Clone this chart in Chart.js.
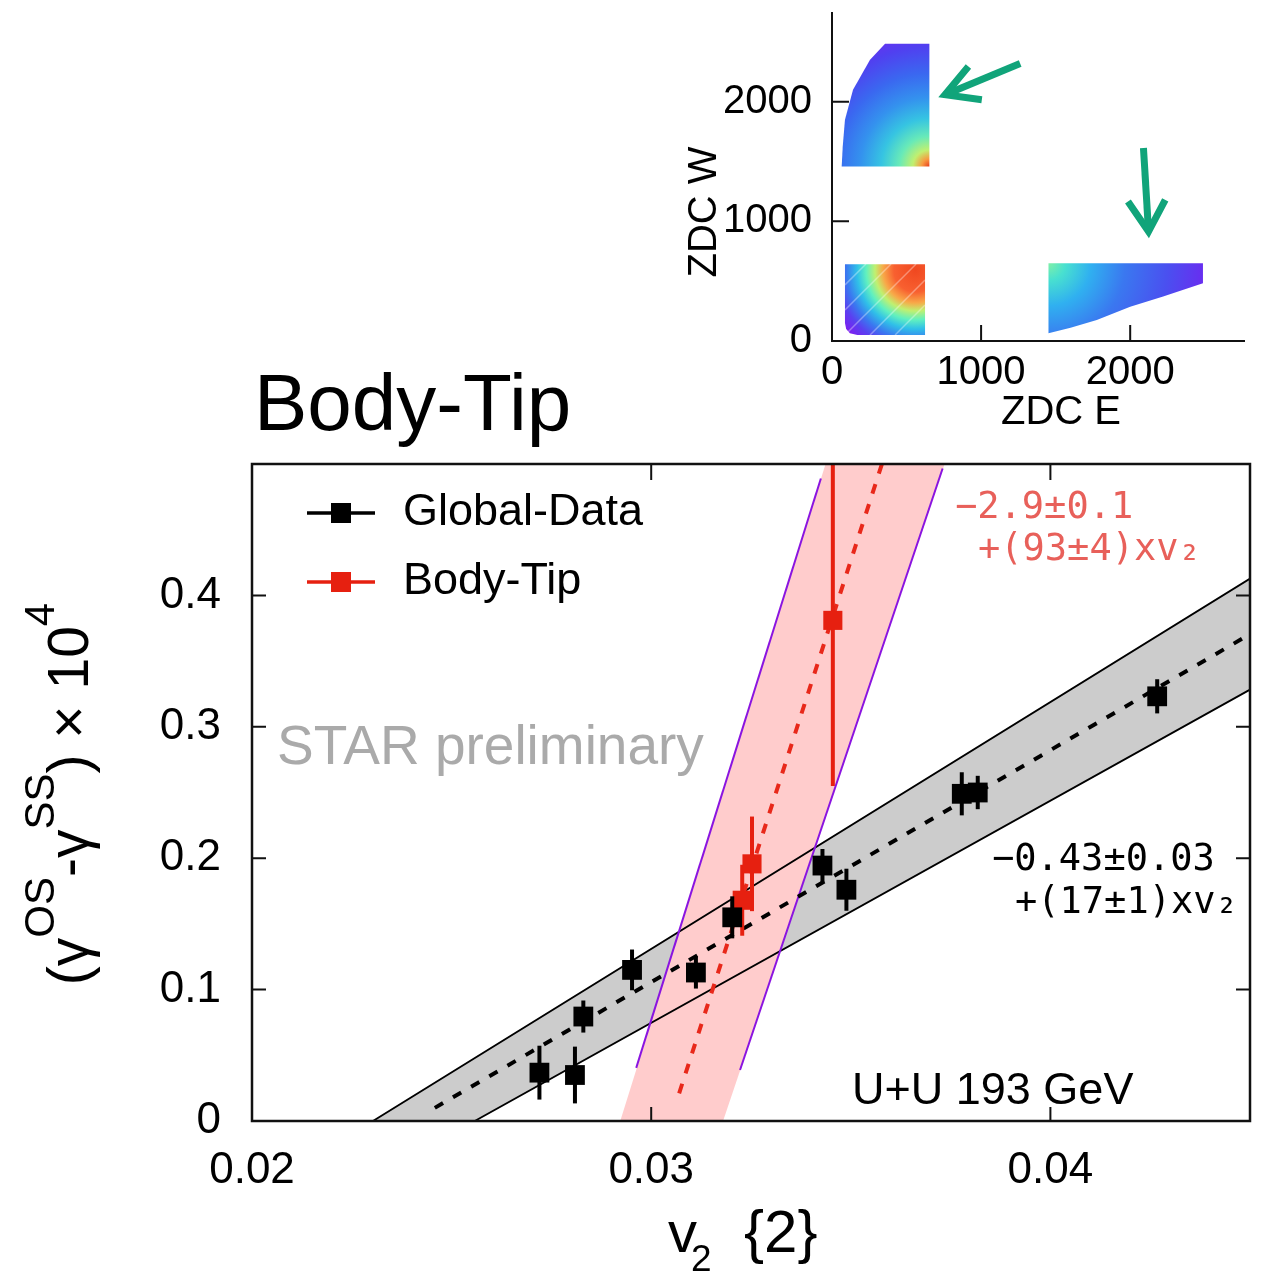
<!DOCTYPE html>
<html>
<head>
<meta charset="utf-8">
<title>Body-Tip vs Global-Data</title>
<script src="https://cdn.jsdelivr.net/npm/chart.js@4.4.1/dist/chart.umd.min.js"></script>
<style>
    html, body { margin: 0; padding: 0; background: #ffffff; }
    #wrap { position: relative; width: 1266px; height: 1272px; }
    #wrap canvas { position: absolute; left: 0; top: 0; }
</style>
</head>
<body>
<div id="wrap">
    <canvas id="mainChart" width="1266" height="1272"></canvas>
    <canvas id="zdcChart" width="1266" height="1272"></canvas>
</div>
<script>
// ==========================================
// DATA
// ==========================================

// Global-Data: v2{2}, (gOS - gSS) x 10^4, stat. error
const globalV2  = [0.0272, 0.02809, 0.0283, 0.02952, 0.03112, 0.03203, 0.03429, 0.03489, 0.03778, 0.03818, 0.042675];
const globalDg  = [0.0368, 0.035, 0.0795, 0.115, 0.113, 0.155, 0.1944, 0.176, 0.249, 0.250, 0.3232];
const globalErr = [0.0205, 0.0216, 0.0122, 0.0155, 0.0122, 0.016, 0.0126, 0.016, 0.0164, 0.0127, 0.013];

// Body-Tip
const bodyV2  = [0.03228, 0.032525, 0.03455];
const bodyDg  = [0.168, 0.1957, 0.381];
const bodyErr = [0.027, 0.036, 0.126];

// linear fits and their bands
const globalFitV2  = [0.02458, 0.045];
const globalFitDg  = [0.010, 0.3705];
const globalBandV2 = [0.02303, 0.045, 0.045, 0.02558];
const globalBandDg = [0, 0.4128, 0.3283, 0];

const bodyFitV2    = [0.0307, 0.03578];
const bodyFitDg    = [0.0211, 0.5];
const bodyBandV2   = [0.029225, 0.034368, 0.03735, 0.0318];
const bodyBandDg   = [0, 0.5, 0.5, 0];
const bodyEdgeLoV2 = [0.029625, 0.03425];
const bodyEdgeLoDg = [0.0404, 0.489];
const bodyEdgeHiV2 = [0.032225, 0.0373];
const bodyEdgeHiDg = [0.0388, 0.4966];

// main axes
const xTicks = [0.02, 0.03, 0.04];
const xTickLabels = ['0.02', '0.03', '0.04'];
const yTicks = [0, 0.1, 0.2, 0.3, 0.4];
const yTickLabels = ['0', '0.1', '0.2', '0.3', '0.4'];

// inset: ZDC E vs ZDC W populations (outlines in ZDC units)
const blobTopE = [65, 653, 653, 356, 255, 141, 87, 72];
const blobTopW = [1459, 1459, 2485, 2485, 2351, 2100, 1849, 1626];
const blobLowE = [87, 624, 624, 170, 120, 95, 87];
const blobLowW = [642, 642, 50, 50, 65, 100, 150];
const blobRightE = [1452, 2488, 2488, 2221, 2000, 1776, 1600, 1452];
const blobRightW = [650, 650, 483, 371, 287, 176, 110, 64];
// null = pen up
const streakE = [87, 228, null, 87, 396, null, 87, 564, null, 255, 624, null, 423, 624];
const streakW = [469, 644, null, 259, 644, null, 50, 644, null, 50, 510, null, 50, 301];
const arrowE = [1262, 758, null, 915, 758, 1005, null, 2089, 2123, null, 1985, 2123, 2235];
const arrowW = [2319, 2059, null, 2295, 2059, 2017, null, 1613, 915, null, 1166, 915, 1180];
const zdcTicks = [0, 1000, 2000];
const zdcTickLabels = ['0', '1000', '2000'];

// ==========================================
// HELPERS
// ==========================================

const FONT = '"Liberation Sans", Arial, Helvetica, sans-serif';
const MONO = '"DejaVu Sans Mono", monospace';

const pts = (xs, ys) => xs.map((x, i) => ({ x: x, y: ys[i] }));

const lineSet = (xs, ys, extra) => Object.assign({
    data: pts(xs, ys),
    showLine: true,
    pointRadius: 0,
    fill: false,
    tension: 0
}, extra);

// split a null-separated polyline into one dataset per stroke
const strokeSets = (xs, ys, extra) => {
    const sets = [];
    let cx = [], cy = [];
    xs.concat([null]).forEach((x, i) => {
        if (x === null) {
            if (cx.length) sets.push(lineSet(cx, cy, extra));
            cx = []; cy = [];
        } else {
            cx.push(x); cy.push(ys[i]);
        }
    });
    return sets;
};

const drawParts = (ctx, parts, x, y) => {
    let cx = x;
    parts.forEach(p => {
        ctx.font = p.size + 'px ' + FONT;
        ctx.fillText(p.t, cx, y + (p.dy || 0));
        cx += ctx.measureText(p.t).width;
    });
    return cx - x;
};

const measureParts = (ctx, parts) => {
    let w = 0;
    parts.forEach(p => {
        ctx.font = p.size + 'px ' + FONT;
        w += ctx.measureText(p.t).width;
    });
    return w;
};

// keep the plot box exactly where the layout padding puts it
const noScalePadding = s => {
    s.paddingTop = 0; s.paddingBottom = 0; s.paddingLeft = 0; s.paddingRight = 0;
};

// ==========================================
// MAIN CHART
// ==========================================

const mainDecor = {
    id: 'mainDecor',
    beforeDatasetDraw(chart, args) {
        const ds = chart.data.datasets[args.index];
        if (!ds.errors) return;
        const { ctx, chartArea, scales } = chart;
        ctx.save();
        ctx.beginPath();
        ctx.rect(chartArea.left, chartArea.top, chartArea.right - chartArea.left, chartArea.bottom - chartArea.top);
        ctx.clip();
        ctx.strokeStyle = ds.backgroundColor;
        ctx.lineWidth = 4;
        ds.data.forEach((p, i) => {
            const px = scales.x.getPixelForValue(p.x);
            ctx.beginPath();
            ctx.moveTo(px, scales.y.getPixelForValue(p.y - ds.errors[i]));
            ctx.lineTo(px, scales.y.getPixelForValue(p.y + ds.errors[i]));
            ctx.stroke();
        });
        ctx.restore();
    },
    afterDatasetsDraw(chart) {
        const { ctx, chartArea: a, scales } = chart;
        ctx.save();
        ctx.strokeStyle = '#111';
        ctx.lineWidth = 2.5;
        ctx.strokeRect(a.left, a.top, a.right - a.left, a.bottom - a.top);
        ctx.lineWidth = 2;
        const tl = 14;
        yTicks.slice(1).forEach(v => {
            const py = scales.y.getPixelForValue(v);
            ctx.beginPath();
            ctx.moveTo(a.left, py); ctx.lineTo(a.left + tl, py);
            ctx.moveTo(a.right, py); ctx.lineTo(a.right - tl, py);
            ctx.stroke();
        });
        xTicks.slice(1).forEach(v => {
            const px = scales.x.getPixelForValue(v);
            ctx.beginPath();
            ctx.moveTo(px, a.top); ctx.lineTo(px, a.top + tl + 2);
            ctx.moveTo(px, a.bottom); ctx.lineTo(px, a.bottom - tl);
            ctx.stroke();
        });
        ctx.restore();
    },
    afterDraw(chart) {
        const ctx = chart.ctx;
        ctx.save();
        ctx.textAlign = 'left';

        // title
        ctx.fillStyle = '#000';
        ctx.textBaseline = 'alphabetic';
        ctx.font = '80px ' + FONT;
        ctx.fillText('Body-Tip', 254, 430);

        ctx.fillStyle = '#aaaaaa';
        ctx.font = '55px ' + FONT;
        ctx.fillText('STAR preliminary', 277, 764);

        ctx.fillStyle = '#000';
        ctx.font = '45px ' + FONT;
        ctx.fillText('U+U 193 GeV', 852, 1104);

        // legend
        const legend = [
            { label: 'Global-Data', color: '#000000', y: 513 },
            { label: 'Body-Tip', color: '#e62010', y: 582 }
        ];
        legend.forEach(l => {
            ctx.strokeStyle = l.color;
            ctx.fillStyle = l.color;
            ctx.lineWidth = 3.5;
            ctx.beginPath();
            ctx.moveTo(307, l.y); ctx.lineTo(375, l.y);
            ctx.stroke();
            ctx.fillRect(331, l.y - 10, 20, 20);
            ctx.fillStyle = '#000';
            ctx.font = '45px ' + FONT;
            ctx.textBaseline = 'middle';
            ctx.fillText(l.label, 403, l.y);
        });

        // fit results
        ctx.font = '37px ' + MONO;
        ctx.fillStyle = '#e8605a';
        ctx.fillText('\u22122.9\u00b10.1', 955, 508);
        ctx.fillText('+(93\u00b14)xv\u2082', 978, 550);
        ctx.fillStyle = '#000';
        ctx.fillText('\u22120.43\u00b10.03', 992, 860);
        ctx.fillText('+(17\u00b11)xv\u2082', 1015, 903);

        // axis titles
        ctx.textBaseline = 'alphabetic';
        const yTitle = [
            { t: '(', size: 57 }, { t: '\u03b3', size: 57 }, { t: 'OS', size: 42, dy: -34 },
            { t: '-', size: 57 }, { t: '\u03b3', size: 57 }, { t: 'SS', size: 42, dy: -34 },
            { t: ')', size: 57 }, { t: ' \u00d7 ', size: 57 }, { t: '10', size: 57 },
            { t: '4', size: 42, dy: -34 }
        ];
        ctx.save();
        ctx.translate(88, 794);
        ctx.rotate(-Math.PI / 2);
        const w = measureParts(ctx, yTitle);
        drawParts(ctx, yTitle, -w / 2, 0);
        ctx.restore();

        ctx.font = '58px ' + FONT;
        ctx.fillText('v', 668, 1252);
        ctx.font = '37px ' + FONT;
        ctx.fillText('2', 691, 1271);
        ctx.font = '60px ' + FONT;
        ctx.fillText('{2}', 744, 1252);

        ctx.restore();
    }
};

const mainCtx = document.getElementById('mainChart').getContext('2d');
const mainChart = new Chart(mainCtx, {
    type: 'line',
    data: {
        datasets: [
            {
                label: 'Global-Data',
                data: pts(globalV2, globalDg),
                errors: globalErr,
                showLine: false,
                pointStyle: 'rect',
                pointRadius: 14,
                pointBorderWidth: 0,
                backgroundColor: '#000000',
                borderColor: '#000000',
                order: 0
            },
            {
                label: 'Body-Tip',
                data: pts(bodyV2, bodyDg),
                errors: bodyErr,
                showLine: false,
                pointStyle: 'rect',
                pointRadius: 13.5,
                pointBorderWidth: 0,
                backgroundColor: '#e62010',
                borderColor: '#e62010',
                order: 1
            },
            lineSet(globalFitV2, globalFitDg, { borderColor: '#000', borderWidth: 4, borderDash: [9.5, 11.5], order: 2 }),
            lineSet(bodyFitV2, bodyFitDg, { borderColor: '#e8281a', borderWidth: 4, borderDash: [10, 11], order: 2 }),
            lineSet(bodyEdgeLoV2, bodyEdgeLoDg, { borderColor: '#8a14e0', borderWidth: 2, order: 3 }),
            lineSet(bodyEdgeHiV2, bodyEdgeHiDg, { borderColor: '#8a14e0', borderWidth: 2, order: 3 }),
            lineSet(globalBandV2, globalBandDg, { borderColor: '#000', borderWidth: 1.8, order: 4 }),
            lineSet(bodyBandV2, bodyBandDg, { borderWidth: 0, borderColor: 'rgba(0,0,0,0)', backgroundColor: '#ffcccc', fill: 'shape', order: 5 }),
            lineSet(globalBandV2, globalBandDg, { borderWidth: 0, borderColor: 'rgba(0,0,0,0)', backgroundColor: '#cccccc', fill: 'shape', order: 6 })
        ]
    },
    options: {
        responsive: false,
        animation: false,
        layout: { padding: { left: 152, right: 16, top: 464, bottom: 51 } },
        plugins: {
            legend: { display: false },
            tooltip: { enabled: false }
        },
        scales: {
            x: {
                type: 'linear',
                min: 0.02,
                max: 0.045,
                grid: { display: false },
                border: { display: false },
                afterBuildTicks: s => { s.ticks = xTicks.map(v => ({ value: v })); },
                afterFit: s => { s.height = 100; },
                ticks: {
                    font: { family: FONT, size: 44 },
                    color: '#000',
                    padding: 15,
                    maxRotation: 0,
                    autoSkip: false,
                    callback: (v, i) => xTickLabels[i]
                }
            },
            y: {
                type: 'linear',
                min: 0,
                max: 0.5,
                grid: { display: false },
                border: { display: false },
                afterBuildTicks: s => { s.ticks = yTicks.map(v => ({ value: v })); },
                afterFit: s => { s.width = 100; },
                ticks: {
                    font: { family: FONT, size: 44 },
                    color: '#000',
                    padding: 23,
                    autoSkip: false,
                    callback: (v, i) => yTickLabels[i]
                }
            }
        }
    },
    plugins: [mainDecor]
});

// ==========================================
// INSET: ZDC W vs ZDC E
// ==========================================

// density colouring: rainbow falling off from the densest corner
const gradFor = (kind) => (context) => {
    const chart = context.chart;
    const { ctx, chartArea, scales } = chart;
    if (!chartArea) return '#3a78f0';
    const X = v => scales.x.getPixelForValue(v);
    const Y = v => scales.y.getPixelForValue(v);
    let g;
    if (kind === 'top') {
        g = ctx.createRadialGradient(X(653), Y(1459), 0, X(653), Y(1459), 150);
        g.addColorStop(0, '#e8401e');
        g.addColorStop(0.05, '#f89a40');
        g.addColorStop(0.11, '#c0f070');
        g.addColorStop(0.2, '#68eab8');
        g.addColorStop(0.32, '#36c4e2');
        g.addColorStop(0.46, '#3492ee');
        g.addColorStop(0.62, '#3a68f0');
        g.addColorStop(0.8, '#5040f0');
        g.addColorStop(1, '#7a24f0');
    } else if (kind === 'low') {
        g = ctx.createRadialGradient(X(560), Y(590), 0, X(560), Y(590), 90);
        g.addColorStop(0, '#f04820');
        g.addColorStop(0.24, '#f86030');
        g.addColorStop(0.36, '#f8a848');
        g.addColorStop(0.45, '#c0f070');
        g.addColorStop(0.55, '#60f0c0');
        g.addColorStop(0.65, '#30c0e8');
        g.addColorStop(0.77, '#3a78f0');
        g.addColorStop(0.88, '#5a40f0');
        g.addColorStop(1, '#7a20f0');
    } else {
        g = ctx.createRadialGradient(X(1452), Y(650), 0, X(1452), Y(650), 170);
        g.addColorStop(0, '#80f0a8');
        g.addColorStop(0.1, '#48e0d0');
        g.addColorStop(0.25, '#30b0f0');
        g.addColorStop(0.45, '#3a78f0');
        g.addColorStop(0.7, '#4a50f0');
        g.addColorStop(1, '#7420f0');
    }
    return g;
};

const zdcDecor = {
    id: 'zdcDecor',
    afterDatasetsDraw(chart) {
        const { ctx, chartArea: a, scales } = chart;
        ctx.save();
        ctx.strokeStyle = '#111';
        ctx.lineWidth = 2;
        ctx.beginPath();
        ctx.moveTo(a.left, a.top);
        ctx.lineTo(a.left, a.bottom);
        ctx.lineTo(a.right, a.bottom);
        ctx.stroke();
        zdcTicks.slice(1).forEach(v => {
            const py = scales.y.getPixelForValue(v);
            const px = scales.x.getPixelForValue(v);
            ctx.beginPath();
            ctx.moveTo(a.left, py); ctx.lineTo(a.left + 17, py);
            ctx.moveTo(px, a.bottom); ctx.lineTo(px, a.bottom - 16);
            ctx.stroke();
        });
        ctx.restore();
    },
    afterDraw(chart) {
        const ctx = chart.ctx;
        ctx.save();
        ctx.fillStyle = '#000';
        ctx.font = '40px ' + FONT;
        ctx.textAlign = 'center';
        ctx.textBaseline = 'middle';
        ctx.fillText('ZDC E', 1061, 413);
        ctx.translate(705, 212);
        ctx.rotate(-Math.PI / 2);
        ctx.fillText('ZDC W', 0, 0);
        ctx.restore();
    }
};

const zdcSets = []
    .concat(strokeSets(arrowE, arrowW, { borderColor: '#11a47a', borderWidth: 7, borderJoinStyle: 'miter', order: 0 }))
    .concat(strokeSets(streakE, streakW, { borderColor: 'rgba(255,255,255,0.35)', borderWidth: 1.5, order: 1 }))
    .concat([
        lineSet(blobTopE, blobTopW, { borderWidth: 0, borderColor: 'rgba(0,0,0,0)', backgroundColor: gradFor('top'), fill: 'shape', order: 2 }),
        lineSet(blobLowE, blobLowW, { borderWidth: 0, borderColor: 'rgba(0,0,0,0)', backgroundColor: gradFor('low'), fill: 'shape', order: 2 }),
        lineSet(blobRightE, blobRightW, { borderWidth: 0, borderColor: 'rgba(0,0,0,0)', backgroundColor: gradFor('right'), fill: 'shape', order: 2 })
    ]);

const zdcCtx = document.getElementById('zdcChart').getContext('2d');
const zdcChart = new Chart(zdcCtx, {
    type: 'line',
    data: { datasets: zdcSets },
    options: {
        responsive: false,
        animation: false,
        layout: { padding: { left: 702, right: 21, top: 12, bottom: 831 } },
        plugins: {
            legend: { display: false },
            tooltip: { enabled: false }
        },
        scales: {
            x: {
                type: 'linear',
                min: 0,
                max: 2770,
                grid: { display: false },
                border: { display: false },
                afterBuildTicks: s => { s.ticks = zdcTicks.map(v => ({ value: v })); },
                afterFit: s => { s.height = 100; noScalePadding(s); },
                ticks: {
                    font: { family: FONT, size: 40 },
                    color: '#000',
                    padding: 0,
                    maxRotation: 0,
                    autoSkip: false,
                    callback: (v, i) => zdcTickLabels[i]
                }
            },
            y: {
                type: 'linear',
                min: 0,
                max: 2750,
                grid: { display: false },
                border: { display: false },
                afterBuildTicks: s => { s.ticks = zdcTicks.map(v => ({ value: v })); },
                afterFit: s => { s.width = 130; noScalePadding(s); },
                ticks: {
                    font: { family: FONT, size: 40 },
                    color: '#000',
                    padding: 12,
                    autoSkip: false,
                    callback: (v, i) => zdcTickLabels[i]
                }
            }
        }
    },
    plugins: [zdcDecor]
});
</script>
</body>
</html>
